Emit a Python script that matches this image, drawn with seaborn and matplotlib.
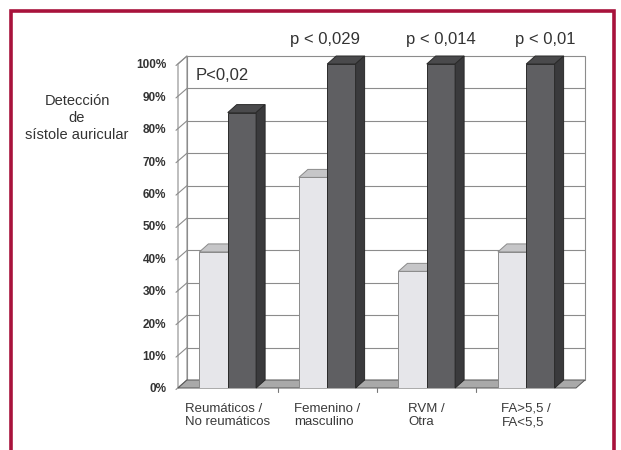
import matplotlib
matplotlib.use("Agg")
import matplotlib.pyplot as plt
import pandas as pd
import seaborn as sns
from matplotlib import transforms
from matplotlib.lines import Line2D
from matplotlib.patches import Polygon, Rectangle

# Datos
categorias = ["Reumáticos /\nNo reumáticos", "Femenino /\nmasculino", "RVM /\nOtra", "FA>5,5 /\nFA<5,5"]
series = ["Grupo 1", "Grupo 2"]
grupo_1 = [42, 65, 36, 42]
grupo_2 = [85, 100, 100, 100]
y_ticks = [0, 10, 20, 30, 40, 50, 60, 70, 80, 90, 100]
p_textos = ["p < 0,029", "p < 0,014", "p < 0,01"]
p_pos = [0.98, 2.14, 3.19]
p_interno = "P<0,02"

LIGHT = "#e6e6ea"
LIGHT_TOP = "#c6c6c8"
DARK = "#5f5f62"
DARK_TOP = "#4a4a4c"
DARK_SIDE = "#3a3a3c"
GRID = "#8c8c8c"
TXT = "#333333"

DPI = 100
DX, DY = 9, 8  # profundidad 3D en pixeles

sns.set_theme(style="white")
plt.rcParams["font.family"] = ["Liberation Sans", "DejaVu Sans"]

fig = plt.figure(figsize=(6.21, 4.5), dpi=DPI)
ax = fig.add_axes([178 / 621, 62 / 450, 398 / 621, 324 / 450])

df = pd.DataFrame({
    "grupo": categorias * 2,
    "serie": [series[0]] * 4 + [series[1]] * 4,
    "valor": grupo_1 + grupo_2,
})

sns.barplot(data=df, x="grupo", y="valor", hue="serie", palette=[LIGHT, DARK],
            width=0.57, gap=0, saturation=1, legend=False, ax=ax, linewidth=0.7)

ax.set_xlim(-0.5, 3.5)
ax.set_ylim(0, 100)
ax.patch.set_visible(False)
for s in ax.spines.values():
    s.set_visible(False)
ax.set_xlabel("")
ax.set_ylabel("")
ax.set_yticks(y_ticks, [f"{v}%" for v in y_ticks])
ax.set_xticks(range(len(categorias)), categorias)
ax.tick_params(axis="y", length=0, pad=8.5, labelsize=8.5, labelcolor=TXT)
ax.tick_params(axis="x", length=0, pad=10.5, labelsize=9.5, labelcolor="#3a3a3a")
for lab in ax.get_yticklabels():
    lab.set_fontweight("bold")
for lab in ax.get_xticklabels():
    lab.set_multialignment("left")
    lab.set_linespacing(1.2)

ident = transforms.IdentityTransform()
back = ax.transData + transforms.ScaledTranslation(DX / DPI, DY / DPI, fig.dpi_scale_trans)


def face(front, rear, **kw):
    f = ax.transData.transform(front)
    r = ax.transData.transform(rear) + [DX, DY]
    pts = list(f) + list(r)
    ax.add_patch(Polygon(pts, closed=True, transform=ident, clip_on=False, **kw))


# pared de fondo, rejilla, pared lateral y suelo
ax.add_patch(Rectangle((-0.5, 0), 4, 100, transform=back, facecolor="white",
                       edgecolor=GRID, lw=0.8, zorder=0, clip_on=False))
for v in y_ticks[1:-1]:
    ax.add_line(Line2D([-0.5, 3.5], [v, v], transform=back, color=GRID, lw=0.8,
                       zorder=0.5, clip_on=False))
face([(-0.5, 0), (-0.5, 100)], [(-0.5, 100), (-0.5, 0)],
     facecolor="white", edgecolor=GRID, lw=0.8, zorder=0.4)
for v in y_ticks:
    p = ax.transData.transform((-0.5, v))
    ax.add_line(Line2D([p[0] - 2, p[0] + DX], [p[1] - 1.5, p[1] + DY], transform=ident,
                       color=GRID, lw=0.8, zorder=0.6, clip_on=False))
face([(-0.5, 0), (3.5, 0)], [(3.5, 0), (-0.5, 0)],
     facecolor="#a9a9a9", edgecolor="#555555", lw=0.7, zorder=1)
for xb in [0.5, 1.5, 2.5]:
    p = ax.transData.transform((xb, 0))
    ax.add_line(Line2D([p[0], p[0]], [p[1], p[1] - 4], transform=ident,
                       color="#777777", lw=0.8, zorder=1, clip_on=False))

# barras en 3D
light_bars, dark_bars = ax.containers[0], ax.containers[1]
for bar in light_bars:
    bar.set_edgecolor("#8a8a8a")
    bar.set_zorder(3)
    x0, w, h = bar.get_x(), bar.get_width(), bar.get_height()
    face([(x0, h), (x0 + w, h)], [(x0 + w, h), (x0, h)],
         facecolor=LIGHT_TOP, edgecolor="#8a8a8a", lw=0.7, zorder=3)
for bar in dark_bars:
    bar.set_edgecolor("#2a2a2a")
    bar.set_zorder(4)
    x0, w, h = bar.get_x(), bar.get_width(), bar.get_height()
    face([(x0, h), (x0 + w, h)], [(x0 + w, h), (x0, h)],
         facecolor=DARK_TOP, edgecolor="#2a2a2a", lw=0.7, zorder=4)
    face([(x0 + w, 0), (x0 + w, h)], [(x0 + w, h), (x0 + w, 0)],
         facecolor=DARK_SIDE, edgecolor="#2a2a2a", lw=0.7, zorder=4)

# textos
for txt, xp in zip(p_textos, p_pos):
    ax.text(xp, 107.7, txt, ha="center", va="center", fontsize=12, color=TXT, clip_on=False)
ax.text(-0.32, 96.3, p_interno, ha="left", va="center", fontsize=12, color=TXT, zorder=5)

fig.text(77 / 621, (450 - 118) / 450, "Detección\nde\nsístole auricular", ha="center",
         va="center", fontsize=10.5, color=TXT, linespacing=1.25)

# marco granate
fig.add_artist(Rectangle((11 / 621, -0.1), (614 - 11) / 621, (450 - 11) / 450 + 0.1,
                         transform=fig.transFigure, fill=False, edgecolor="#a8123c", lw=2.6))

fig.savefig("out.png", dpi=DPI)
